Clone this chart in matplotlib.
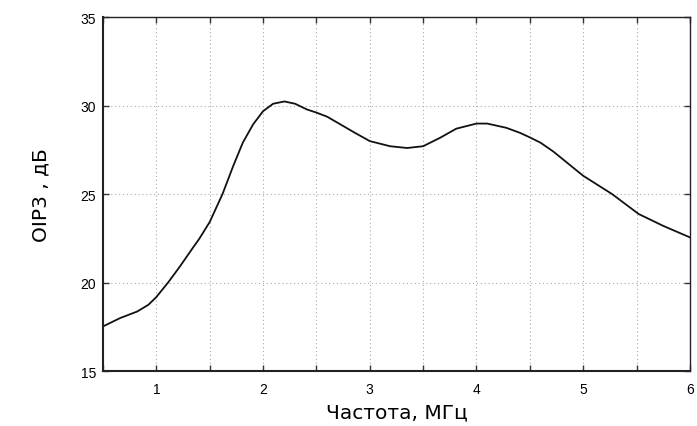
import matplotlib
matplotlib.use("Agg")
import matplotlib.pyplot as plt
from matplotlib.ticker import MultipleLocator, FuncFormatter

freq = [0.5, 0.66, 0.82, 0.925, 1.0, 1.11, 1.22, 1.35, 1.4, 1.5, 1.62, 1.72, 1.81, 1.906,
        2.0, 2.094, 2.2, 2.3, 2.41, 2.5, 2.6, 2.72, 2.86, 3.0, 3.19, 3.35, 3.5, 3.66, 3.81,
        4.0, 4.1, 4.28, 4.41, 4.5, 4.6, 4.72, 5.0, 5.27, 5.52, 5.75, 6.0]
oip3 = [17.52, 17.99, 18.36, 18.74, 19.18, 20.0, 20.9, 22.03, 22.45, 23.42, 25.0, 26.58, 27.9, 28.93,
        29.68, 30.1, 30.23, 30.1, 29.78, 29.6, 29.37, 28.95, 28.46, 27.99, 27.7, 27.6, 27.7, 28.18, 28.69,
        28.98, 28.98, 28.74, 28.45, 28.2, 27.9, 27.4, 26.03, 25.0, 23.87, 23.2, 22.55]

xlabel = "Частота, МГц"
ylabel = "OIP3 , дБ"

fig = plt.figure(figsize=(6.97, 4.27), dpi=100)
ax = fig.add_axes([0.1478, 0.1288, 0.842, 0.829])
ax.plot(freq, oip3, color="#111111", lw=1.3, solid_joinstyle="round")
ax.set_xlim(0.5, 6)
ax.set_ylim(15, 35)
ax.xaxis.set_major_locator(MultipleLocator(0.5))
ax.yaxis.set_major_locator(MultipleLocator(5))
ax.xaxis.set_major_formatter(FuncFormatter(lambda v, p: f"{int(round(v))}" if abs(v - round(v)) < 1e-6 and 0.9 < v < 6.1 else ""))
ax.tick_params(direction="in", top=True, right=True, length=4, width=1.0, labelsize=10, colors="#333333", labelcolor="black")
ax.tick_params(axis="y", pad=5)
ax.tick_params(axis="x", pad=8)
for lab in ax.get_xticklabels() + ax.get_yticklabels():
    lab.set_fontfamily("Liberation Sans")
ax.grid(True, linestyle=(0, (1, 2.5)), color="#aaaaaa", lw=0.8)
for s in ax.spines.values():
    s.set_linewidth(1.0)
    s.set_color("#222222")
ax.spines["left"].set_linewidth(1.5)
ax.spines["bottom"].set_linewidth(1.5)
ax.set_xlabel(xlabel, fontsize=14.5)
ax.set_ylabel(ylabel, fontsize=14.5)
ax.xaxis.set_label_coords(0.5, -0.088)
ax.yaxis.set_label_coords(-0.09, 0.5)
fig.savefig("out.png", dpi=100)
